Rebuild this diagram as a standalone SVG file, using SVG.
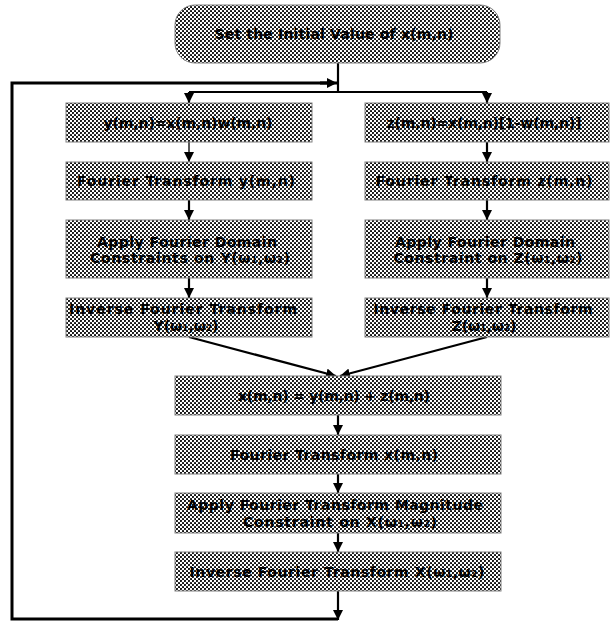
<svg xmlns="http://www.w3.org/2000/svg" width="615" height="624" viewBox="0 0 615 624">
<defs>
<pattern id="dots" x="0" y="0" width="4" height="4" patternUnits="userSpaceOnUse">
<rect width="4" height="4" fill="#ffffff"/>
<circle cx="1" cy="1" r="1.05" fill="#000"/>
<circle cx="3" cy="3" r="1.05" fill="#000"/>
</pattern>
<marker id="ah" viewBox="0 0 10 10" refX="10" refY="5" markerWidth="10" markerHeight="10" markerUnits="userSpaceOnUse" orient="auto">
<path d="M0,0 L10,5 L0,10 Z" fill="#000"/>
</marker>
</defs>
<style>
.box{fill:url(#dots);stroke:#808080;stroke-width:1}
.t{font-family:"DejaVu Sans","Liberation Sans",sans-serif;font-weight:bold;font-size:14px;fill:#000;text-anchor:middle;dominant-baseline:central}
.c{fill:none;stroke:#000;stroke-width:2.2}
.a{fill:none;stroke:#000;stroke-width:2.2;marker-end:url(#ah)}
.loop{fill:none;stroke:#000;stroke-width:3}
</style>

<g id="connectors">
<line class="c" x1="338" y1="63" x2="338" y2="92"/>
<polyline class="c" points="189,92 487,92"/>
<line class="a" x1="189" y1="92" x2="189" y2="103"/>
<line class="a" x1="487" y1="92" x2="487" y2="103"/>
<line class="a" x1="189" y1="142" x2="189" y2="162" style="stroke-width:1.3"/>
<line class="a" x1="487" y1="142" x2="487" y2="162"/>
<line class="a" x1="189" y1="200" x2="189" y2="220"/>
<line class="a" x1="487" y1="200" x2="487" y2="220"/>
<line class="a" x1="189" y1="278" x2="189" y2="298"/>
<line class="a" x1="487" y1="278" x2="487" y2="298"/>
<line class="a" x1="189" y1="337" x2="336" y2="376"/>
<line class="a" x1="487" y1="337" x2="340" y2="376"/>
<line class="a" x1="338" y1="415" x2="338" y2="435"/>
<line class="a" x1="338" y1="474" x2="338" y2="493"/>
<line class="a" x1="338" y1="533" x2="338" y2="552"/>
<line class="a" x1="338" y1="591" x2="338" y2="620"/>
<polyline class="loop" points="338,619 12,619 12,83 328,83"/>
<line class="a" x1="320" y1="83" x2="337" y2="83" style="stroke-width:3"/>
</g>

<g id="n0">
<rect class="box" x="175" y="5" width="325" height="58" rx="20" ry="20"/>
<text class="t" x="334" y="34" textLength="239" lengthAdjust="spacing">Set the Initial Value of x(m,n)</text>
</g>

<g id="n1">
<rect class="box" x="66" y="103" width="246" height="39"/>
<text class="t" x="188" y="123" textLength="169" lengthAdjust="spacing">y(m,n)=x(m,n)w(m,n)</text>
</g>
<g id="n2">
<rect class="box" x="66" y="162" width="246" height="38"/>
<text class="t" x="186" y="181" textLength="218" lengthAdjust="spacing">Fourier Transform  y(m,n)</text>
</g>
<g id="n3">
<rect class="box" x="66" y="220" width="246" height="58"/>
<text class="t" x="187" y="242" textLength="180" lengthAdjust="spacing">Apply Fourier Domain</text>
<text class="t" x="190" y="258" textLength="200" lengthAdjust="spacing">Constraints on Y(ω₁,ω₂)</text>
</g>
<g id="n4">
<rect class="box" x="66" y="298" width="246" height="39"/>
<text class="t" x="183" y="309" textLength="228" lengthAdjust="spacing">Inverse Fourier Transform</text>
<text class="t" x="186" y="326">Y(ω₁,ω₂)</text>
</g>

<g id="n5">
<rect class="box" x="365" y="103" width="244" height="39"/>
<text class="t" x="484" y="123" textLength="195" lengthAdjust="spacing">z(m,n)=x(m,n)[1-w(m,n)]</text>
</g>
<g id="n6">
<rect class="box" x="365" y="162" width="244" height="38"/>
<text class="t" x="484" y="181" textLength="217" lengthAdjust="spacing">Fourier Transform  z(m,n)</text>
</g>
<g id="n7">
<rect class="box" x="365" y="220" width="244" height="58"/>
<text class="t" x="485" y="242" textLength="180" lengthAdjust="spacing">Apply Fourier Domain</text>
<text class="t" x="488" y="258" textLength="189" lengthAdjust="spacing">Constraint on Z(ω₁,ω₂)</text>
</g>
<g id="n8">
<rect class="box" x="365" y="298" width="244" height="39"/>
<text class="t" x="483" y="309" textLength="219" lengthAdjust="spacing">Inverse Fourier Transform</text>
<text class="t" x="484" y="326">Z(ω₁,ω₂)</text>
</g>

<g id="n9">
<rect class="box" x="175" y="376" width="326" height="39"/>
<text class="t" x="334" y="396" textLength="192" lengthAdjust="spacing">x(m,n) = y(m,n) + z(m,n)</text>
</g>
<g id="n10">
<rect class="box" x="175" y="435" width="326" height="39"/>
<text class="t" x="334" y="455" textLength="208" lengthAdjust="spacing">Fourier Transform x(m,n)</text>
</g>
<g id="n11">
<rect class="box" x="175" y="493" width="326" height="40"/>
<text class="t" x="335" y="505" textLength="296" lengthAdjust="spacing">Apply Fourier Transform Magnitude</text>
<text class="t" x="340" y="522" textLength="194" lengthAdjust="spacing">Constraint on X(ω₁,ω₂)</text>
</g>
<g id="n12">
<rect class="box" x="175" y="552" width="326" height="39"/>
<text class="t" x="337" y="572" textLength="295" lengthAdjust="spacing">Inverse Fourier Transform X(ω₁,ω₂)</text>
</g>
</svg>
